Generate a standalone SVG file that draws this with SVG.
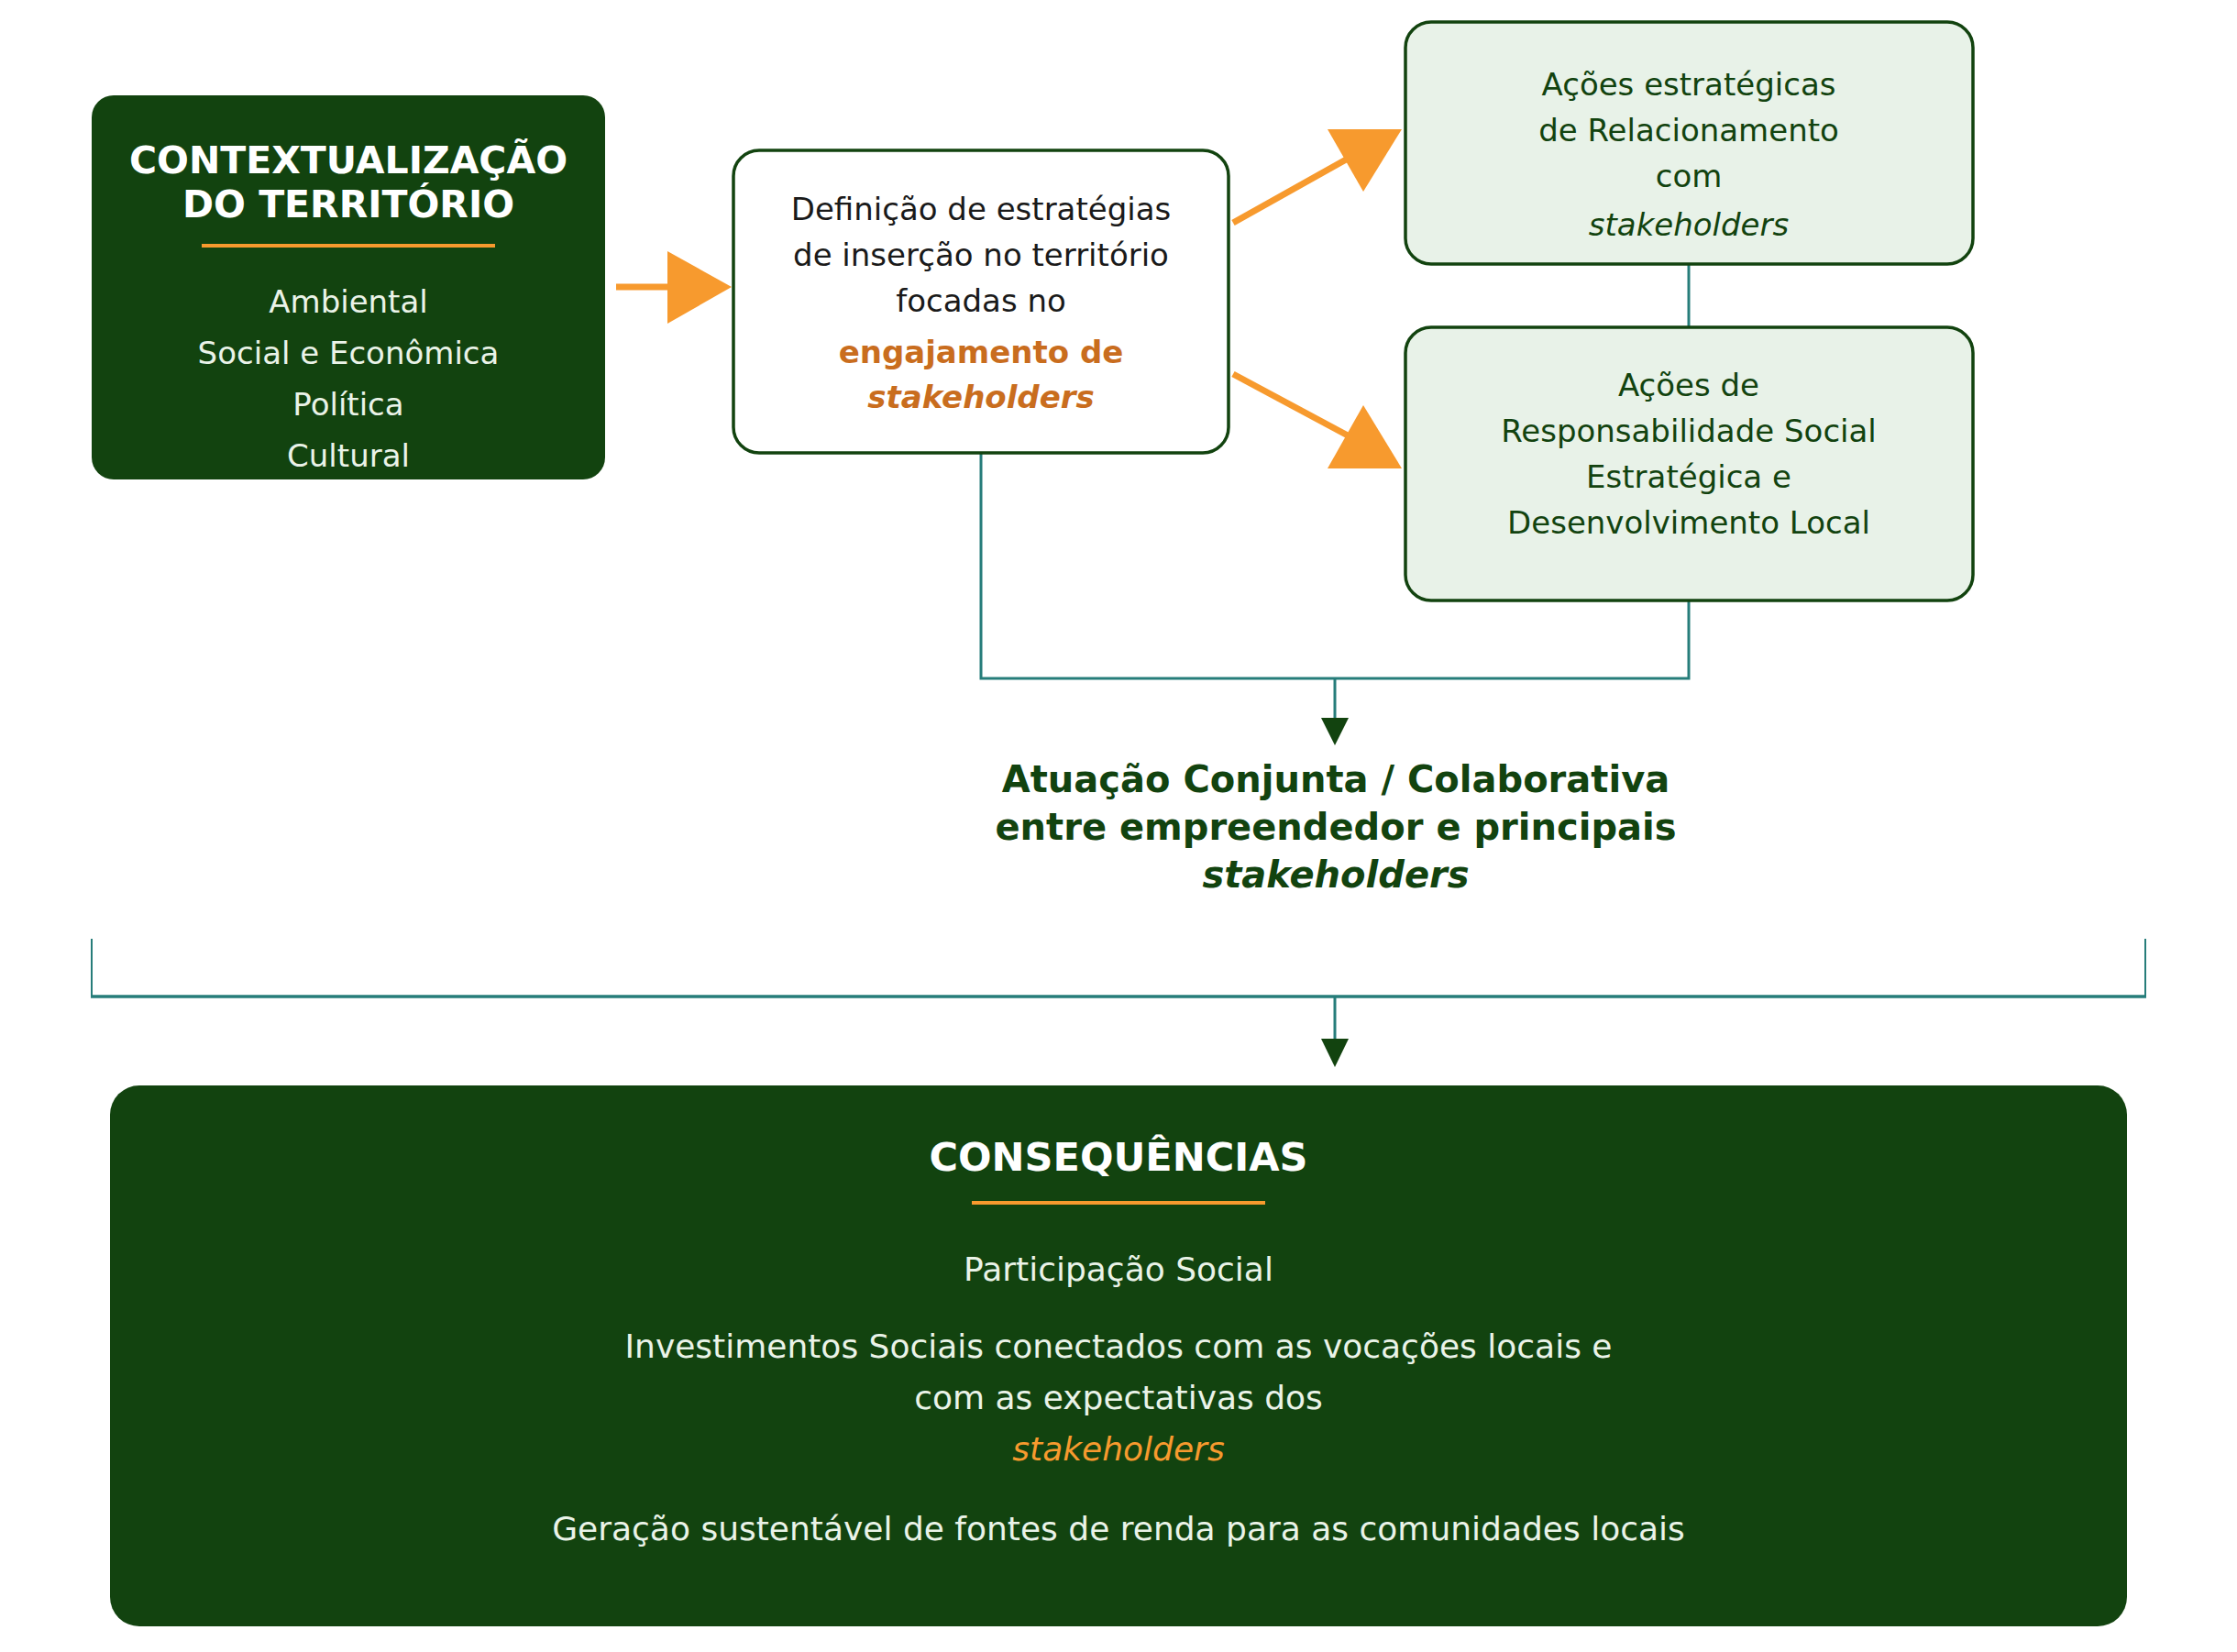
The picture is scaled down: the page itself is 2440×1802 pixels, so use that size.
<svg xmlns="http://www.w3.org/2000/svg" width="2440" height="1802" viewBox="0 0 2440 1802">
<defs>
<style>
text{font-family:"DejaVu Sans","Noto Sans",sans-serif;text-anchor:middle}
.dark{fill:#12430f}
.light{fill:#eaf3e8}
.ttl{font-size:41px;font-weight:bold;fill:#ffffff}
.b34{font-size:34px}
.b36{font-size:36px}
.hdr{font-size:40px;font-weight:bold;fill:#12430f}
.or{stroke:#f79a2e;stroke-width:7;fill:none}
.orf{fill:#f79a2e}
.teal{stroke:#267d7a;stroke-width:3;fill:none}
.pale{fill:#e8f2e8;stroke:#12430f;stroke-width:3.5}
</style>
</defs>
<rect width="2440" height="1802" fill="#ffffff"/>

<g id="connectors">
<line class="or" x1="672" y1="313" x2="732" y2="313"/>
<polygon class="orf" points="728,274 798,313 728,353"/>
<line class="or" x1="1345" y1="243" x2="1470" y2="173"/>
<polygon class="orf" points="1448,141 1529,141 1487,209"/>
<line class="or" x1="1345" y1="408" x2="1470" y2="475"/>
<polygon class="orf" points="1448,511 1529,511 1487,442"/>
<line class="teal" x1="1842" y1="288" x2="1842" y2="356"/>
<polyline class="teal" points="1070,494 1070,740 1842,740 1842,655"/>
<line class="teal" x1="1456" y1="740" x2="1456" y2="785"/>
<polygon class="dark" points="1441,783 1471,783 1456,813"/>
<line class="teal" x1="100" y1="1024" x2="100" y2="1088" style="stroke-width:2"/>
<line class="teal" x1="2340" y1="1024" x2="2340" y2="1088" style="stroke-width:2"/>
<line class="teal" x1="99" y1="1087" x2="2341" y2="1087" style="stroke-width:3.5"/>
<line class="teal" x1="1456" y1="1087" x2="1456" y2="1135"/>
<polygon class="dark" points="1441,1133 1471,1133 1456,1164"/>
</g>

<g id="node-contexto">
<rect x="100" y="104" width="560" height="419" rx="24" class="dark"/>
<text x="380" y="189" class="ttl">CONTEXTUALIZAÇÃO</text>
<text x="380" y="237" class="ttl">DO TERRITÓRIO</text>
<line x1="220" y1="268" x2="540" y2="268" stroke="#f79a2e" stroke-width="4"/>
<text x="380" y="341" class="b34 light">Ambiental</text>
<text x="380" y="397" class="b34 light">Social e Econômica</text>
<text x="380" y="453" class="b34 light">Política</text>
<text x="380" y="509" class="b34 light">Cultural</text>
</g>

<g id="node-definicao">
<rect x="800" y="164" width="540" height="330" rx="28" fill="#ffffff" stroke="#12430f" stroke-width="3.5"/>
<text x="1070" y="240" class="b34" fill="#1a1a1a">Definição de estratégias</text>
<text x="1070" y="290" class="b34" fill="#1a1a1a">de inserção no território</text>
<text x="1070" y="340" class="b34" fill="#1a1a1a">focadas no</text>
<text x="1070" y="396" class="b34" fill="#c96d1e" font-weight="bold">engajamento de</text>
<text x="1070" y="445" class="b34" fill="#c96d1e" font-weight="bold" font-style="italic">stakeholders</text>
</g>

<g id="node-relacionamento">
<rect x="1533" y="24" width="619" height="264" rx="28" class="pale"/>
<text x="1842" y="104" class="b34 dark">Ações estratégicas</text>
<text x="1842" y="154" class="b34 dark">de Relacionamento</text>
<text x="1842" y="204" class="b34 dark">com</text>
<text x="1842" y="257" class="b34 dark" font-style="italic">stakeholders</text>
</g>

<g id="node-responsabilidade">
<rect x="1533" y="357" width="619" height="298" rx="28" class="pale"/>
<text x="1842" y="432" class="b34 dark">Ações de</text>
<text x="1842" y="482" class="b34 dark">Responsabilidade Social</text>
<text x="1842" y="532" class="b34 dark">Estratégica e</text>
<text x="1842" y="582" class="b34 dark">Desenvolvimento Local</text>
</g>

<g id="node-atuacao">
<text x="1457" y="864" class="hdr">Atuação Conjunta / Colaborativa</text>
<text x="1457" y="916" class="hdr">entre empreendedor e principais</text>
<text x="1457" y="968" class="hdr" font-style="italic">stakeholders</text>
</g>

<g id="node-consequencias">
<rect x="120" y="1184" width="2200" height="590" rx="32" class="dark"/>
<text x="1220" y="1277" font-size="43" font-weight="bold" fill="#ffffff">CONSEQUÊNCIAS</text>
<line x1="1060" y1="1312" x2="1380" y2="1312" stroke="#f79a2e" stroke-width="4"/>
<text x="1220" y="1397" class="b36 light">Participação Social</text>
<text x="1220" y="1481" class="b36 light">Investimentos Sociais conectados com as vocações locais e</text>
<text x="1220" y="1537" class="b36 light">com as expectativas dos</text>
<text x="1220" y="1593" class="b36" fill="#f79a2e" font-style="italic">stakeholders</text>
<text x="1220" y="1680" class="b36 light">Geração sustentável de fontes de renda para as comunidades locais</text>
</g>
</svg>
